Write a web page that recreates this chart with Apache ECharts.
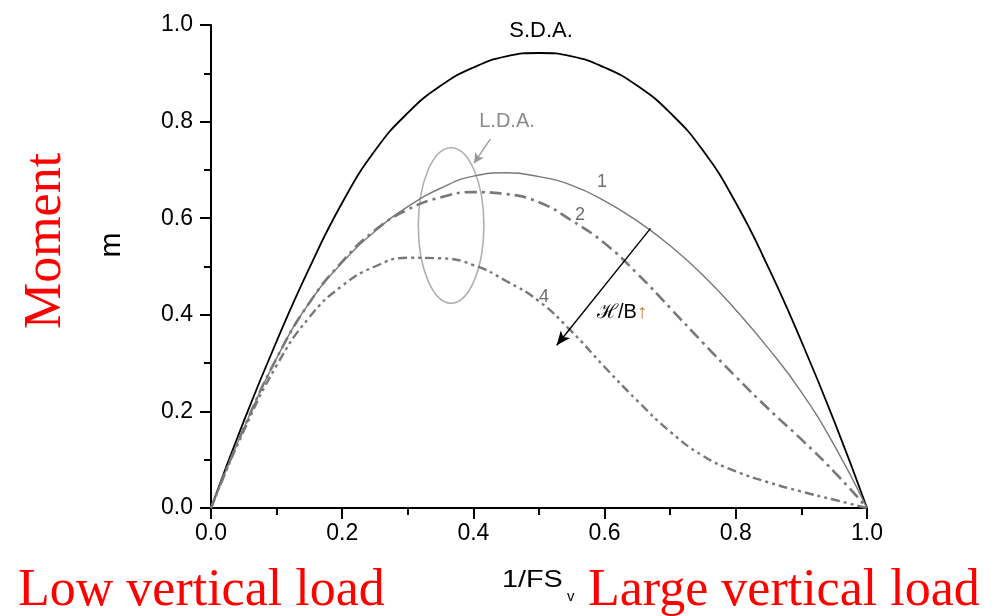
<!DOCTYPE html>
<html>
<head>
<meta charset="utf-8">
<script src="https://cdn.jsdelivr.net/npm/echarts@6/dist/echarts.min.js"></script>
<style>html,body{margin:0;padding:0;background:#fff;}#c{width:994px;height:616px;}</style>
</head>
<body>
<div id="c"></div>
<script>
const xValues = [0,0.05,0.1,0.15,0.2,0.25,0.3,0.35,0.4,0.45,0.5,0.55,0.6,0.65,0.7,0.75,0.8,0.85,0.9,0.95,1.0];
const sdaValues = [0,0.18,0.345,0.497,0.632,0.74,0.818,0.874,0.912,0.935,0.942,0.935,0.912,0.874,0.818,0.74,0.632,0.497,0.345,0.18,0];
const curve1Values = [0,0.165,0.31,0.425,0.508,0.573,0.624,0.662,0.687,0.694,0.686,0.668,0.636,0.594,0.543,0.482,0.41,0.33,0.24,0.13,0];
const curve2Values = [0,0.165,0.31,0.425,0.51,0.575,0.618,0.643,0.654,0.65,0.633,0.595,0.548,0.485,0.414,0.342,0.272,0.205,0.142,0.075,0];
const curve4Values = [0,0.16,0.295,0.395,0.46,0.5,0.518,0.517,0.503,0.47,0.428,0.365,0.292,0.222,0.158,0.108,0.076,0.053,0.034,0.017,0];
const xTickLabels = ['0.0','0.2','0.4','0.6','0.8','1.0'];
const yTickLabels = ['0.0','0.2','0.4','0.6','0.8','1.0'];

const pair = vals => xValues.map((x,i)=>[x, vals[i]]);
const chart = echarts.init(document.getElementById('c'), null, {renderer:'canvas'});
const axisCommon = {
  type:'value', min:0, max:1, interval:0.2,
  axisLine:{show:true, onZero:false, lineStyle:{color:'#000', width:2}},
  axisTick:{show:true, inside:false, length:11, lineStyle:{color:'#000', width:2}},
  minorTick:{show:true, splitNumber:2, length:7, lineStyle:{color:'#000', width:2}},
  splitLine:{show:false},
};
const gray = '#787878';
chart.setOption({
  animation:false,
  backgroundColor:'#fff',
  grid:{left:211, right:127, top:25, bottom:108, containLabel:false},
  xAxis:Object.assign({}, axisCommon, {
    axisLabel:{margin:14, fontSize:23, color:'#000', fontFamily:'Arial, "Liberation Sans", sans-serif',
      formatter:(v)=>xTickLabels[Math.round(v/0.2)]}
  }),
  yAxis:Object.assign({}, axisCommon, {
    axisLabel:{margin:18, fontSize:23, color:'#000', fontFamily:'Arial, "Liberation Sans", sans-serif',
      formatter:(v)=>yTickLabels[Math.round(v/0.2)]}
  }),
  series:[
    {name:'S.D.A.', type:'line', data:pair(sdaValues), smooth:0.5, showSymbol:false,
      lineStyle:{color:'#000', width:1.8}},
    {name:'1', type:'line', data:pair(curve1Values), smooth:0.5, showSymbol:false,
      lineStyle:{color:gray, width:1.4},
      markLine:{silent:true, symbol:['none','arrow'], symbolSize:[9,14], label:{show:false},
        lineStyle:{color:'#000', width:1.4, type:'solid'},
        data:[[{coord:[0.670,0.579]},{coord:[0.527,0.337]}]]}},
    {name:'2', type:'line', data:pair(curve2Values), smooth:0.5, showSymbol:false,
      lineStyle:{color:gray, width:2.6, type:[12,5,3,5]},
      markLine:{silent:true, symbol:['none','arrow'], symbolSize:[8,10], label:{show:false},
        lineStyle:{color:'#999', width:1.3, type:'solid'},
        data:[[{coord:[0.426,0.764]},{coord:[0.401,0.714]}]]}},
    {name:'4', type:'line', data:pair(curve4Values), smooth:0.5, showSymbol:false,
      lineStyle:{color:gray, width:2.4, type:[9,4,3,4,3,4]}}
  ]
});

const c0 = chart.convertToPixel({gridIndex:0}, [0.366, 0.585]);
const c1 = chart.convertToPixel({gridIndex:0}, [0.416, 0.746]);
const serif = '"Times New Roman", "Liberation Serif", serif';
const sans = 'Arial, "Liberation Sans", sans-serif';
function txt(x, y, text, size, color, family, extra) {
  return Object.assign({type:'text', x:x, y:y, silent:true,
    style:{text:text, fontSize:size, fontFamily:family, fill:color, align:'center', verticalAlign:'middle'}}, extra || {});
}
chart.setOption({
  graphic:[
    {type:'ellipse', shape:{cx:c0[0], cy:c0[1], rx:c1[0]-c0[0], ry:c0[1]-c1[1]},
      style:{fill:'none', stroke:'#b0b0b0', lineWidth:1.6}, silent:true},
    txt(541, 31, 'S.D.A.', 22, '#000', sans),
    txt(507, 121, 'L.D.A.', 20, '#8c8c8c', sans),
    txt(602, 182, '1', 18, '#6e6e6e', sans),
    txt(580, 215, '2', 18, '#6e6e6e', sans),
    txt(544, 297, '4', 18, '#6e6e6e', sans),
    {type:'text', x:597, y:312, silent:true, style:{text:'{a|ℋ/B}{b|↑}', align:'left', verticalAlign:'middle',
      rich:{a:{fontSize:20, fontFamily:sans, fill:'#000'}, b:{fontSize:20, fontFamily:sans, fill:'#c87a30'}}}},
    txt(112, 245, 'm', 30, '#000', sans, {rotation:Math.PI/2}),
    {type:'text', x:502, y:580, scaleX:1.2, silent:true, style:{text:'1/FS', fontSize:24, fontFamily:sans, fill:'#000', align:'left', verticalAlign:'middle'}},
    {type:'text', x:567, y:597, silent:true, style:{text:'v', fontSize:15, fontFamily:sans, fill:'#000', align:'left', verticalAlign:'middle'}},
    txt(46, 241, 'Moment', 52, '#ff0000', serif, {rotation:Math.PI/2}),
    {type:'text', x:18, y:591, silent:true, style:{text:'Low vertical load', fontSize:52, fontFamily:serif, fill:'#ff0000', align:'left', verticalAlign:'middle'}},
    {type:'text', x:588, y:591, silent:true, style:{text:'Large vertical load', fontSize:52, fontFamily:serif, fill:'#ff0000', align:'left', verticalAlign:'middle'}}
  ]
});
</script>
</body>
</html>
